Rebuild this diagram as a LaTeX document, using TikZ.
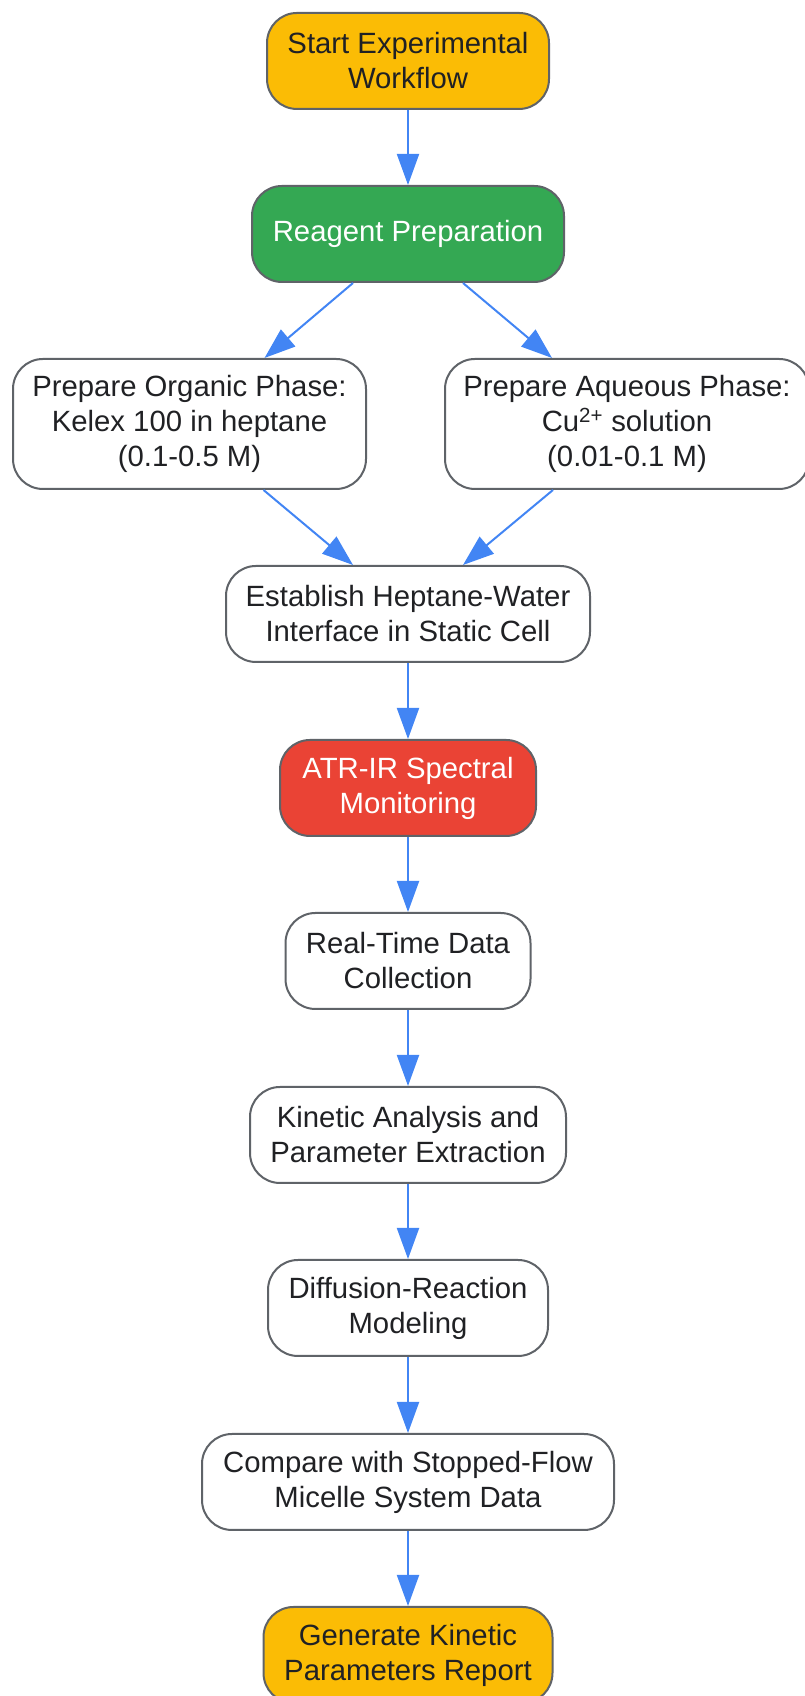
\documentclass[tikz,border=0pt]{standalone}
\usepackage{fontspec}
\setmainfont{Liberation Sans}
\usepackage{tikz}
\usetikzlibrary{arrows.meta}

\definecolor{gyellow}{HTML}{FBBC05}
\definecolor{ggreen}{HTML}{34A853}
\definecolor{gred}{HTML}{EA4335}
\definecolor{gblue}{HTML}{4285F4}
\definecolor{edgegray}{HTML}{5F6368}
\definecolor{txtdark}{HTML}{202124}

\begin{document}
\begin{tikzpicture}[x=1pt, y=1pt,
    box/.style={draw=edgegray, line width=2pt, rounded corners=30pt, fill=white,
      text=txtdark, align=center, inner sep=0pt, minimum height=96pt,
      font=\fontsize{29.3}{35}\selectfont},
    flow/.style={draw=gblue, line width=2pt, -{Triangle[length=31pt, width=22pt]}}]
    \useasboundingbox (0, 0) rectangle (804, 1696);
    \node[box, fill=gyellow, minimum width=282pt] (start) at (408, 1635) {Start Experimental\\Workflow};
    \node[box, fill=ggreen, text=white, minimum width=312pt] (reagent) at (408, 1462) {Reagent Preparation};
    \node[box, minimum width=353pt, minimum height=130pt] (organic) at (189.5, 1272) {Prepare Organic Phase:\\Kelex 100 in heptane\\(0.1-0.5 M)};
    \node[box, minimum width=364pt, minimum height=130pt] (aqueous) at (627, 1272) {Prepare Aqueous Phase:\\Cu\textsuperscript{2+} solution\\(0.01-0.1 M)};
    \node[box, minimum width=364pt] (interface) at (408, 1082) {Establish Heptane-Water\\Interface in Static Cell};
    \node[box, fill=gred, text=white, minimum width=256pt] (atrir) at (408, 908) {ATR-IR Spectral\\Monitoring};
    \node[box, minimum width=245pt] (collect) at (408, 735) {Real-Time Data\\Collection};
    \node[box, minimum width=316pt] (kinetic) at (408, 561) {Kinetic Analysis and\\Parameter Extraction};
    \node[box, minimum width=280pt] (diffusion) at (408, 388) {Diffusion-Reaction\\Modeling};
    \node[box, minimum width=412pt] (compare) at (408, 214) {Compare with Stopped-Flow\\Micelle System Data};
    \node[box, fill=gyellow, minimum width=289pt] (report) at (408, 41) {Generate Kinetic\\Parameters Report};

    % connectors
    \draw[flow] (start) -- (reagent);
    \draw[flow] ([xshift=-55pt]reagent.south) -- ([xshift=75pt]organic.north);
    \draw[flow] ([xshift=55pt]reagent.south) -- ([xshift=-75pt]aqueous.north);
    \draw[flow] ([xshift=74pt]organic.south) -- ([xshift=-55pt]interface.north);
    \draw[flow] ([xshift=-74pt]aqueous.south) -- ([xshift=55pt]interface.north);
    \draw[flow] (interface) -- (atrir);
    \draw[flow] (atrir) -- (collect);
    \draw[flow] (collect) -- (kinetic);
    \draw[flow] (kinetic) -- (diffusion);
    \draw[flow] (diffusion) -- (compare);
    \draw[flow] (compare) -- (report);
\end{tikzpicture}
\end{document}
